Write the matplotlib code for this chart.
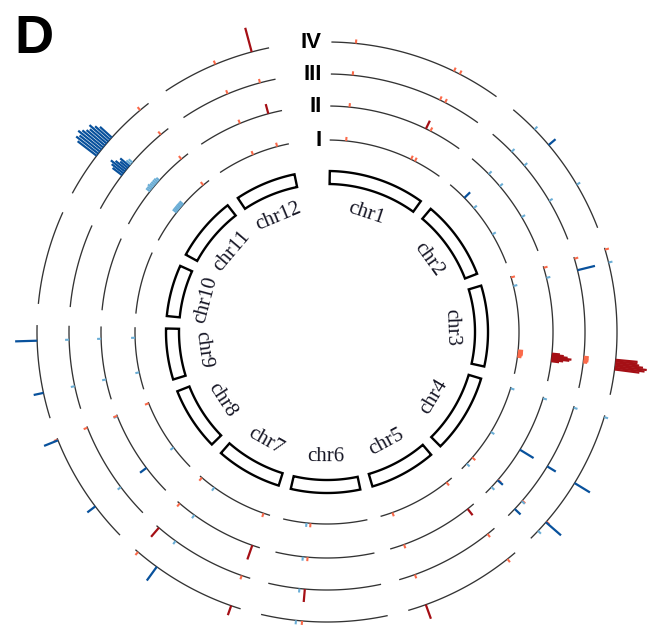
import numpy as np
import matplotlib
matplotlib.use("Agg")
import matplotlib.pyplot as plt
from matplotlib.patches import Polygon
from matplotlib.collections import LineCollection

# chromosomes (Mb)
chroms = ['chr1', 'chr2', 'chr3', 'chr4', 'chr5', 'chr6',
          'chr7', 'chr8', 'chr9', 'chr10', 'chr11', 'chr12']
chrom_len = [43.3, 35.9, 36.4, 35.5, 29.9, 31.2, 29.7, 28.4, 23.0, 23.2, 29.0, 27.5]

# gene loci: chromosome index and position (Mb)
gene_chrom = [0, 0, 0,
              1, 1, 1,
              2, 2, 2, 2, 2, 2, 2, 2, 2,
              3, 3, 3, 3, 3,
              4, 4,
              5, 5,
              6, 6, 6,
              7, 7, 7,
              8, 8,
              10, 10, 10, 10, 10, 10, 10, 10, 10, 10, 10,
              11, 11]
gene_pos = [5.9, 31.2, 32.8,
            7.0, 12.2, 24.2,
            0.3, 3.6, 27.8, 28.2, 28.6, 29.0, 29.4, 29.8, 30.2,
            0.3, 18.2, 30.0, 30.2, 33.1,
            2.3, 25.5,
            21.1, 22.6,
            2.3, 23.1, 29.0,
            9.2, 28.0, 28.2,
            6.3, 19.3,
            10.9, 11.55, 12.2, 12.85, 13.5, 14.15, 14.8, 15.45, 16.1, 16.75, 26.5,
            13.75, 23.25]

# signed values per track (red = up, blue = down)
track_I = [4, 4, 4,
           -8, -4, -4,
           4, -4, 5, 5, 5, 5, 5, 4, 4,
           -4, -4, 4, 0, -4,
           4, 4,
           4, -4,
           4, -4, 4,
           -4, 0, 4,
           -4, -4,
           0, 0, -5, -5, -5, -5, -5, -5, -5, 0, 4,
           4, 4]
track_II = [4, 9, 4,
            -4, -4, -4,
            4, -4, 8, 12, 16, 20, 18, 12, 8,
            -4, -16, 4, -7, -4,
            8, 4,
            4, -4,
            15, -4, 4,
            -8, -4, 4,
            -4, -4,
            0, 0, -5, -5, -6, -5, -5, -5, -5, -4, 4,
            4, 10]
track_III = [4, 4, 4,
             -4, -4, -4,
             4, -18, 5, 5, 5, 5, 4, 0, 0,
             -4, -10, 4, -4, -8,
             4, 4,
             13, -4,
             4, -4, 12,
             -4, 0, 4,
             -4, -4,
             -12, -15, -18, -14, -10, -12, -6, -5, 0, 0, 4,
             4, 4]
track_IV = [4, 4, 4,
            -4, -9, -4,
            4, -4, 22, 22, 24, 28, 32, 30, 25,
            -4, -18, 4, -20, -4,
            4, 15,
            4, -4,
            10, -17, 4,
            -10, -15, 4,
            -10, -22,
            -24, -28, -26, -30, -27, -24, -22, -25, -20, -16, 4,
            4, 25]

track_names = ['I', 'II', 'III', 'IV']
tracks = [track_I, track_II, track_III, track_IV]

# layout (pixel units, angle clockwise from top)
cx, cy = 327, 332
start_deg = 1.0
gap_deg = 4.45
deg_per_mb = 0.8
track_r = [192, 226, 258, 290]
ring_in, ring_out = 148, 161
label_r = 125

chrom_start = []
a = start_deg
for L in chrom_len:
    chrom_start.append(a)
    a += L * deg_per_mb + gap_deg


def xy(theta, r):
    t = np.radians(theta)
    return cx + r * np.sin(t), cy - r * np.cos(t)


fig = plt.figure(figsize=(6.57, 6.27), dpi=100)
ax = fig.add_axes([0, 0, 1, 1])
ax.set_xlim(0, 657)
ax.set_ylim(627, 0)
ax.axis('off')

# chromosome boxes + labels
for i, name in enumerate(chroms):
    t0 = chrom_start[i]
    t1 = t0 + chrom_len[i] * deg_per_mb
    th = np.linspace(t0, t1, 80)
    xo, yo = xy(th, ring_out)
    xi, yi = xy(th[::-1], ring_in)
    pts = np.column_stack([np.concatenate([xo, xi]), np.concatenate([yo, yi])])
    ax.add_patch(Polygon(pts, closed=True, facecolor='white', edgecolor='black', lw=1.7))
    mid = (t0 + t1) / 2
    rot = 180 - mid if 90 < mid < 270 else -mid
    lx, ly = xy(mid, label_r)
    ax.text(lx, ly, name, rotation=rot, ha='center', va='center',
            family='Liberation Serif', fontsize=15, color='#161625')

# track baselines
for r in track_r:
    for i in range(len(chroms)):
        t0 = chrom_start[i]
        th = np.linspace(t0, t0 + chrom_len[i] * deg_per_mb, 100)
        x, y = xy(th, r)
        ax.plot(x, y, color='#333333', lw=0.95)

# bars
for k, vals in enumerate(tracks):
    light, dark = [], []
    lcol, dcol = [], []
    for c, p, v in zip(gene_chrom, gene_pos, vals):
        if v == 0:
            continue
        th = chrom_start[c] + p * deg_per_mb
        seg = [xy(th, track_r[k]), xy(th, track_r[k] + abs(v))]
        if abs(v) >= 7:
            dark.append(seg)
            dcol.append('#A50F15' if v > 0 else '#08519C')
        else:
            light.append(seg)
            lcol.append('#FB6A4A' if v > 0 else '#6BAED6')
    ax.add_collection(LineCollection(light, colors=lcol, linewidths=1.5, capstyle='butt', zorder=3))
    ax.add_collection(LineCollection(dark, colors=dcol, linewidths=1.6, capstyle='butt', zorder=4))
    ax.text(cx - 5, cy - track_r[k] + 1, track_names[k], ha='right', va='center',
            family='Liberation Sans', fontweight='bold', fontsize=16)

ax.text(14, 53, 'D', family='Liberation Sans', fontweight='bold', fontsize=39,
        ha='left', va='baseline')

fig.savefig('out.png', dpi=100)
